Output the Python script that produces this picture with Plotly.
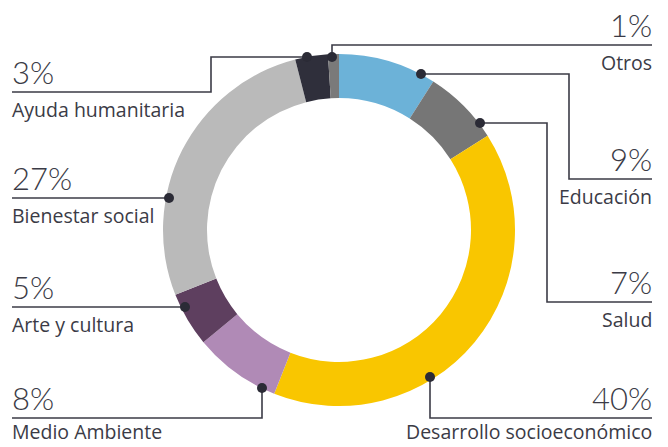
import plotly.graph_objects as go

categories = ["Educación", "Salud", "Desarrollo socioeconómico", "Medio Ambiente",
              "Arte y cultura", "Bienestar social", "Ayuda humanitaria", "Otros"]
values = [9, 7, 40, 8, 5, 27, 3, 1]
pct_labels = ["9%", "7%", "40%", "8%", "5%", "27%", "3%", "1%"]
colors = ["#6cb2d8", "#767676", "#f9c600", "#b08ab6", "#5e3f5f", "#bababa", "#2f2f3b", "#7a7a7a"]

W, H = 668, 447
INK = "#3b3b46"

def px(x):
    return x / W

def py(y):
    return 1 - y / H

# connector layout (pixel space): dot position then polyline path
connectors = {
    "Otros":                     dict(pts=[(332, 57), (332, 45), (652, 45)], side="right"),
    "Educación":                 dict(pts=[(421, 74), (569, 74), (569, 179), (652, 179)], side="right"),
    "Salud":                     dict(pts=[(480, 123), (547, 123), (547, 302), (652, 302)], side="right"),
    "Desarrollo socioeconómico": dict(pts=[(430, 377), (430, 418), (652, 418)], side="right"),
    "Medio Ambiente":            dict(pts=[(262, 388), (262, 418), (12, 418)], side="left"),
    "Arte y cultura":            dict(pts=[(185, 307), (12, 307)], side="left"),
    "Bienestar social":          dict(pts=[(169, 198), (12, 198)], side="left"),
    "Ayuda humanitaria":         dict(pts=[(307, 57), (211, 57), (211, 92), (12, 92)], side="left"),
}

cx, cy, R = 339, 230, 176

fig = go.Figure(go.Pie(
    labels=categories, values=values, sort=False, direction="clockwise", rotation=0,
    hole=0.75, marker=dict(colors=colors, line=dict(width=0)),
    textinfo="none", hoverinfo="label+percent", showlegend=False,
    domain=dict(x=[px(cx - R), px(cx + R)], y=[py(cy + R), py(cy - R)]),
))

shapes = []
annotations = []
for cat, pct in zip(categories, pct_labels):
    c = connectors[cat]
    pts = c["pts"]
    path = "M " + " L ".join(f"{px(x)},{py(y)}" for x, y in pts)
    shapes.append(dict(type="path", path=path, xref="paper", yref="paper",
                       line=dict(color=INK, width=1.6)))
    dx, dy = pts[0]
    r = 5
    shapes.append(dict(type="circle", xref="paper", yref="paper",
                       x0=px(dx - r), x1=px(dx + r), y0=py(dy + r), y1=py(dy - r),
                       fillcolor="#2b2b36", line=dict(width=0)))
    ly = pts[-1][1]
    if c["side"] == "right":
        ax, anchor = px(653), "right"
    else:
        ax, anchor = px(11), "left"
    annotations.append(dict(x=ax, y=py(ly), xref="paper", yref="paper",
                            text=pct, showarrow=False, xanchor=anchor, yanchor="bottom",
                            borderpad=0,
                            font=dict(family="Lato", size=31, color=INK, weight=300)))
    if ly + 3 + 27 > H:
        ypos, yanc = py(H - 1), "bottom"
    else:
        ypos, yanc = py(ly + 3), "top"
    annotations.append(dict(x=ax, y=ypos, xref="paper", yref="paper",
                            text=cat, showarrow=False, xanchor=anchor, yanchor=yanc,
                            borderpad=0,
                            font=dict(family="Open Sans", size=19.5, color=INK)))

fig.update_layout(width=W, height=H, margin=dict(l=0, r=0, t=0, b=0),
                  paper_bgcolor="white", plot_bgcolor="white",
                  shapes=shapes, annotations=annotations)

fig.write_html("out.html", config={"displayModeBar": False},
               post_script="document.body.style.margin='0';")
